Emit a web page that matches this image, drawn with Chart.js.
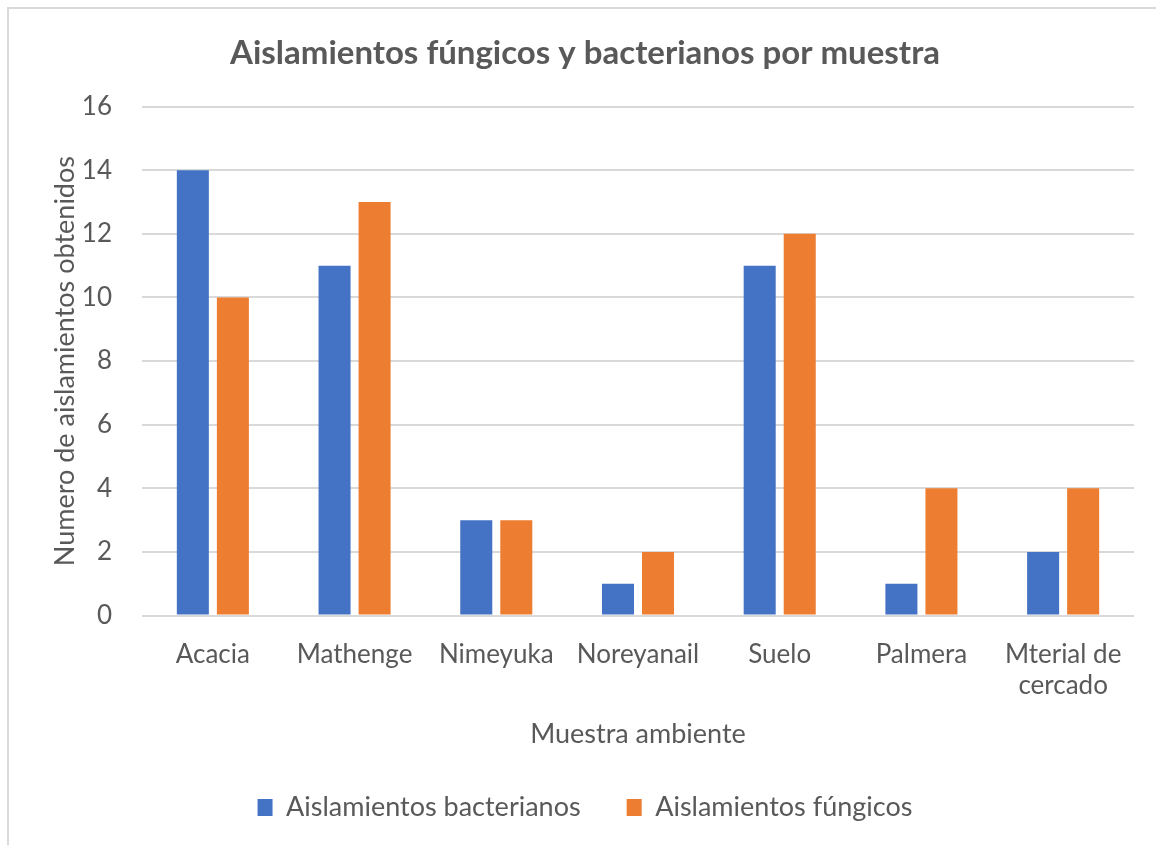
<!DOCTYPE html>
<html>
<head>
<meta charset="utf-8">
<script src="https://cdn.jsdelivr.net/npm/chart.js@4.4.1/dist/chart.umd.min.js"></script>
<style>
  html, body { margin: 0; padding: 0; background: #fff; }
  #frame {
    position: absolute; left: 7px; top: 7px; width: 1149px; height: 838px;
    border-top: 2px solid #d9d9d9; border-left: 2px solid #d9d9d9;
    box-sizing: border-box;
  }
  #wrap { position: absolute; left: 0; top: 0; width: 1156px; height: 845px; }
</style>
</head>
<body>
<div id="frame"></div>
<div id="wrap"><canvas id="chart"></canvas></div>
<script>
// Datos del gráfico
const muestras = ['Acacia', 'Mathenge', 'Nimeyuka', 'Noreyanail', 'Suelo', 'Palmera', ['Mterial de', 'cercado']];
const bacterianos = [14, 11, 3, 1, 11, 1, 2];
const fungicos = [10, 13, 3, 2, 12, 4, 4];

const gris = '#595959';
const fuente = 'Lato, "Open Sans", sans-serif';

const ctx = document.getElementById('chart').getContext('2d');
new Chart(ctx, {
    type: 'bar',
    data: {
        labels: muestras,
        datasets: [{
            label: 'Aislamientos bacterianos',
            data: bacterianos,
            backgroundColor: '#4472c4',
            barPercentage: 0.8,
            categoryPercentage: 0.565
        }, {
            label: 'Aislamientos fúngicos',
            data: fungicos,
            backgroundColor: '#ed7d31',
            barPercentage: 0.8,
            categoryPercentage: 0.565
        }]
    },
    options: {
        responsive: true,
        maintainAspectRatio: false,
        animation: false,
        layout: { padding: { left: 36, right: 22, top: 34, bottom: 14 } },
        plugins: {
            title: {
                display: true,
                text: 'Aislamientos fúngicos y bacterianos por muestra',
                color: gris,
                font: { family: fuente, size: 33, weight: 'bold' },
                padding: { top: 0, bottom: 33 }
            },
            legend: {
                position: 'bottom',
                labels: {
                    color: gris,
                    font: { family: fuente, size: 27 },
                    boxWidth: 15,
                    boxHeight: 17,
                    padding: 46
                }
            },
            tooltip: { enabled: false }
        },
        scales: {
            x: {
                grid: { display: false },
                border: { display: false },
                ticks: { color: gris, font: { family: fuente, size: 26, lineHeight: 1.2 }, padding: 15, maxRotation: 0, autoSkip: false },
                title: {
                    display: true,
                    text: 'Muestra ambiente',
                    color: gris,
                    font: { family: fuente, size: 27, lineHeight: 1.0 },
                    padding: { top: 5, bottom: 0 }
                }
            },
            y: {
                min: 0,
                max: 16,
                afterFit: function (scale) { scale.width = 106; },
                grid: { color: '#d9d9d9', lineWidth: 2, drawTicks: false },
                border: { display: false },
                ticks: { stepSize: 2, color: gris, font: { family: fuente, size: 26 }, padding: 30 },
                title: {
                    display: true,
                    text: 'Numero de aislamientos obtenidos',
                    color: gris,
                    font: { family: fuente, size: 27 },
                    padding: { top: 13, bottom: 0 }
                }
            }
        }
    }
});
</script>
</body>
</html>
